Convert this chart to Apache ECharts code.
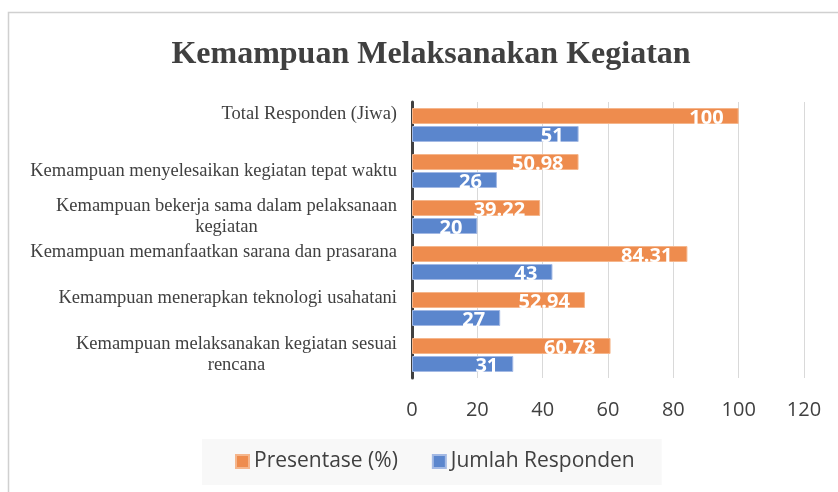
<!DOCTYPE html>
<html>
<head>
<meta charset="utf-8">
<script src="https://cdn.jsdelivr.net/npm/echarts@6/dist/echarts.min.js"></script>
<style>
html,body{margin:0;padding:0;background:#fff;}
#chart{width:838px;height:492px;}
</style>
</head>
<body>
<div id="chart"></div>
<script>
const categories = [
  'Total Responden (Jiwa)',
  'Kemampuan menyelesaikan kegiatan tepat waktu',
  'Kemampuan bekerja sama dalam pelaksanaan\nkegiatan',
  'Kemampuan memanfaatkan sarana dan prasarana',
  'Kemampuan menerapkan teknologi usahatani',
  'Kemampuan melaksanakan kegiatan sesuai\nrencana'
];
const presentase = [100, 50.98, 39.22, 84.31, 52.94, 60.78];
const jumlahResponden = [51, 26, 20, 43, 27, 31];
const seriesNames = ['Presentase (%)', 'Jumlah Responden'];
const titleText = 'Kemampuan Melaksanakan Kegiatan';
const axisMin = 0, axisMax = 120, axisStep = 20;

const chart = echarts.init(document.getElementById('chart'));
const barLabel = {
  show: true,
  position: 'insideRight',
  distance: 15,
  offset: [0, 2],
  color: '#ffffff',
  fontFamily: 'Open Sans',
  fontWeight: 'bold',
  fontSize: 20
};
chart.setOption({
  animation: false,
  backgroundColor: '#ffffff',
  graphic: [{
    type: 'rect',
    silent: true,
    shape: {x: 8.5, y: 12.5, width: 900, height: 600},
    style: {fill: 'none', stroke: '#d0d0d0', lineWidth: 1.5}
  }],
  title: {
    text: titleText,
    left: 426,
    textAlign: 'center',
    top: 34,
    textStyle: {
      fontFamily: 'Liberation Serif',
      fontWeight: 'bold',
      fontSize: 32,
      color: '#404040'
    }
  },
  legend: {
    data: seriesNames,
    left: 202,
    top: 439,
    backgroundColor: '#f8f8f8',
    padding: [12, 27, 13, 33],
    icon: 'rect',
    itemWidth: 13,
    itemHeight: 13,
    itemGap: 34,
    textStyle: {fontFamily: 'Open Sans', fontSize: 21, color: '#404040'}
  },
  grid: {left: 412, right: 34, top: 102, bottom: 114},
  xAxis: {
    type: 'value',
    min: axisMin,
    max: axisMax,
    interval: axisStep,
    axisLine: {show: false},
    axisTick: {show: false},
    splitLine: {lineStyle: {color: '#d9d9d9', width: 1}},
    axisLabel: {fontFamily: 'Open Sans', fontSize: 20, color: '#404040', margin: 22}
  },
  yAxis: {
    type: 'category',
    inverse: true,
    data: categories,
    axisLine: {lineStyle: {color: '#404040', width: 3}},
    axisTick: {show: false},
    axisLabel: {
      margin: 15,
      formatter: function (value, index) {
        const lines = value.split('\n');
        let s = lines.map(l => '{c|' + l + '}').join('\n');
        if (lines.length === 1 && index !== 1) s += '\n{c| }';
        return s;
      },
      rich: {
        c: {fontFamily: 'Liberation Serif', fontSize: 18.5, color: '#404040', lineHeight: 21, align: 'center'}
      }
    }
  },
  series: [
    {
      name: seriesNames[0],
      type: 'bar',
      data: presentase,
      barWidth: 16,
      barGap: '12.5%',
      itemStyle: {color: '#ee8c4e', borderColor: '#f5b68c', borderWidth: 1},
      label: barLabel
    },
    {
      name: seriesNames[1],
      type: 'bar',
      data: jumlahResponden,
      barWidth: 16,
      barGap: '12.5%',
      itemStyle: {color: '#5b86cd', borderColor: '#a3b9e4', borderWidth: 1},
      label: barLabel
    }
  ]
});
</script>
</body>
</html>
